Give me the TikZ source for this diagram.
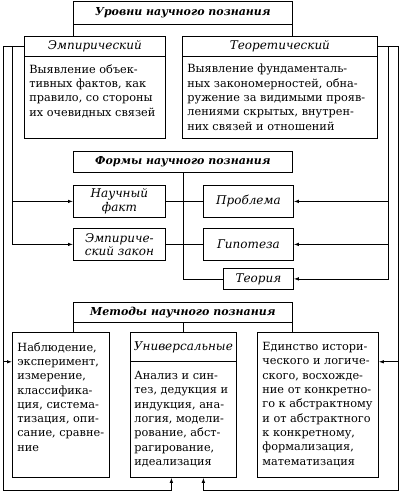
\documentclass[tikz,border=0pt]{standalone}
\usepackage{fontspec}
\setmainfont{DejaVu Serif}
\usetikzlibrary{arrows.meta}

\begin{document}
\begin{tikzpicture}%
    [x=1pt, y=-1pt, line width=0.8pt,
     frame/.style={draw, inner sep=0pt, anchor=north west},
     title/.style={frame, font=\fontsize{11}{13}\selectfont\bfseries\itshape},
     head/.style={frame, align=center, font=\fontsize{12}{13.5}\selectfont\itshape},
     body/.style={anchor=north west, inner sep=0pt, align=left, font=\fontsize{11.3}{14.3}\selectfont},
     arr/.style={-{Latex[length=5pt,width=3.5pt]}}]
    \useasboundingbox (0,0) rectangle (400,497);

    % levels
    \node[title, minimum width=219pt, minimum height=23pt] (lev) at (73,1) {Уровни научного познания};
    \node[head, minimum width=141pt, minimum height=20pt] (emph) at (24,36) {Эмпирический};
    \node[frame, minimum width=141pt, minimum height=82pt] (empb) at (24,56) {};
    \node[body] (empt) at ([shift={(5pt,-8pt)}]empb.north west) {Выявление объек-\\тивных фактов, как\\правило, со стороны\\их очевидных связей};
    \node[head, minimum width=195pt, minimum height=20pt] (teoh) at (182,36) {Теоретический};
    \node[frame, minimum width=195pt, minimum height=82pt] (teob) at (182,56) {};
    \node[body] (teot) at ([shift={(5pt,-8pt)}]teob.north west) {Выявление фундаменталь-\\ных закономерностей, обна-\\ружение за видимыми прояв-\\лениями скрытых, внутрен-\\них связей и отношений};
    \draw (lev.south west) -- (lev.south west |- emph.north);
    \draw (lev.south east) -- (lev.south east |- teoh.north);

    % forms
    \node[title, minimum width=219pt, minimum height=21pt] (forms) at (73,151) {Формы научного познания};
    \node[head, minimum width=92pt, minimum height=32pt] (fact) at (73,185) {Научный\\факт};
    \node[head, minimum width=92pt, minimum height=32pt] (law) at (73,228) {Эмпириче-\\ский закон};
    \node[head, minimum width=90pt, minimum height=32pt] (prob) at (203,185) {Проблема};
    \node[head, minimum width=90pt, minimum height=32pt] (hyp) at (203,228) {Гипотеза};
    \node[head, minimum width=70pt, minimum height=21pt] (theo) at (223,268) {Теория};
    \draw (forms.south) |- (theo.west);
    \draw (fact) -- (prob);
    \draw (law) -- (hyp);

    % methods
    \node[title, minimum width=219pt, minimum height=20pt] (meth) at (73,302) {Методы научного познания};
    \node[frame, minimum width=97pt, minimum height=145pt] (obs) at (12,332) {};
    \node[body] (obst) at ([shift={(5pt,-10pt)}]obs.north west) {Наблюдение,\\эксперимент,\\измерение,\\классифика-\\ция, система-\\тизация, опи-\\сание, сравне-\\ние};
    \node[head, minimum width=106pt, minimum height=29pt] (unih) at (130,332) {Универсальные};
    \node[frame, minimum width=106pt, minimum height=116pt] (unib) at (130,361) {};
    \node[body] (unit) at ([shift={(4pt,-10pt)}]unib.north west) {Анализ и син-\\тез, дедукция и\\индукция, ана-\\логия, модели-\\рование, абст-\\рагирование,\\идеализация};
    \node[frame, minimum width=121pt, minimum height=145pt] (logb) at (257,332) {};
    \node[body] (logt) at ([shift={(5pt,-10pt)}]logb.north west) {Единство истори-\\ческого и логиче-\\ского, восхожде-\\ние от конкретно-\\го к абстрактному\\и от абстрактного\\к конкретному,\\формализация,\\математизация};
    \draw (meth.south west) -- (meth.south west |- obs.north);
    \draw (meth.south) -- (meth.south |- unih.north);
    \draw (meth.south east) -- (meth.south east |- logb.north);

    % side lines
    \coordinate (lA) at (3,490);
    \coordinate (lB) at (12,47);
    \coordinate (rA) at (398,490);
    \coordinate (rB) at (388,47);
    \draw[arr] (emph.west) -| (lA) -| ([xshift=-12pt]unib.south);
    \draw[arr] (lA |- unih.south) -- (obs.west |- unih.south);
    \draw[arr] (lB) |- (law.west);
    \draw[arr] (lB |- fact.west) -- (fact.west);
    \draw[arr] (teoh.east) -| (rA) -| ([xshift=20pt]unib.south);
    \draw[arr] (rA |- unih.south) -- (logb.east |- unih.south);
    \draw[arr] (rB) |- (theo.east);
    \draw[arr] (rB |- prob.east) -- (prob.east);
    \draw[arr] (rB |- hyp.east) -- (hyp.east);
\end{tikzpicture}
\end{document}
